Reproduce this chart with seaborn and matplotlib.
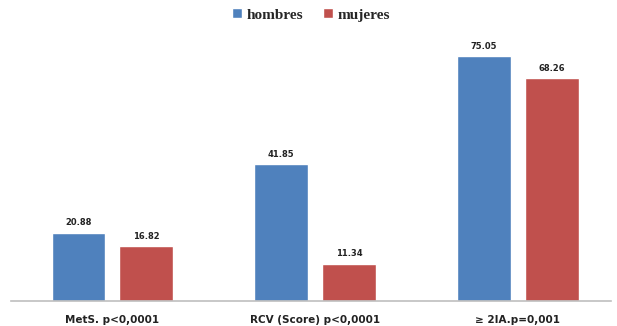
import pandas as pd
import matplotlib.pyplot as plt
import seaborn as sns

# Values
categories = ['MetS. p<0,0001', 'RCV (Score) p<0,0001', '≥ 2IA.p=0,001']
hombres = [20.88, 41.85, 75.05]
mujeres = [16.82, 11.34, 68.26]
series = ['hombres', 'mujeres']
colors = ['#4F81BD', '#C0504D']

df = pd.DataFrame({
    'cat': categories * 2,
    'sexo': ['hombres'] * 3 + ['mujeres'] * 3,
    'valor': hombres + mujeres,
})

sns.set_style('white')
plt.rcParams['font.family'] = ['DejaVu Sans']

fig = plt.figure(figsize=(6.17, 3.26), dpi=100)
ax = fig.add_axes([11 / 617, 1 - 301 / 326, 600 / 617, (301 - 40) / 326])

sns.barplot(data=df, x='cat', y='valor', hue='sexo', hue_order=series,
            palette=colors, width=0.67, gap=0.21, saturation=1, ax=ax)

for cont in ax.containers:
    ax.bar_label(cont, fmt='%.2f', padding=4, fontsize=6, fontweight='bold', color='#222222')

ax.set_ylim(0, 80)
ax.set_xlim(-0.5, 2.46)
ax.set_xlabel('')
ax.set_ylabel('')
ax.set_yticks([])
for s in ['top', 'right', 'left']:
    ax.spines[s].set_visible(False)
ax.spines['bottom'].set_color('#bfbfbf')
ax.spines['bottom'].set_linewidth(1.2)
ax.tick_params(axis='x', length=0, pad=10, labelsize=7.5, labelcolor='#222222')
for t in ax.get_xticklabels():
    t.set_fontweight('bold')

handles, labels = ax.get_legend_handles_labels()
ax.legend(handles, labels, loc='upper center', bbox_to_anchor=(0.5, 1.175), ncol=2,
          frameon=False, handlelength=0.65, handleheight=0.65, handletextpad=0.3,
          columnspacing=1.3, prop={'family': 'Liberation Serif', 'weight': 'bold', 'size': 11})

fig.savefig('out.png', dpi=100)
